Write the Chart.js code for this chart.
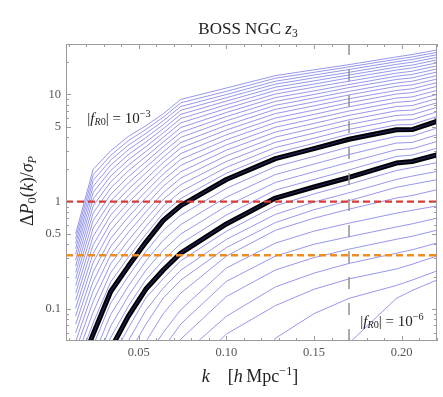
<!DOCTYPE html>
<html><head><meta charset="utf-8">
<script src="https://cdn.jsdelivr.net/npm/chart.js@4.4.0/dist/chart.umd.min.js"></script>
<style>
html,body{margin:0;padding:0;background:#fff;}
#wrap{position:relative;width:443px;height:397px;overflow:hidden;background:#fff;}
canvas{position:absolute;left:0;top:0;}
.t{position:absolute;font-family:"Liberation Serif","DejaVu Serif",serif;color:#222;white-space:nowrap;line-height:1;transform:translate(-50%,-50%);}
.t sub{font-size:0.68em;vertical-align:-0.28em;line-height:0;}
.t sup{font-size:0.68em;vertical-align:0.55em;line-height:0;}
</style></head><body>
<div id="wrap">
<canvas id="c" width="443" height="397"></canvas>
<div class="t" style="left:248px;top:28px;font-size:17px;">BOSS NGC <i>z</i><sub>3</sub></div>
<div class="t" style="left:27px;top:191px;font-size:18px;transform:translate(-50%,-50%) rotate(-90deg);">Δ<i>P</i><sub>0</sub>(<i>k</i>)/<i>σ</i><sub><i>P</i></sub></div>
<div class="t" style="left:250px;top:376px;font-size:18px;"><i>k</i>&nbsp;&nbsp;&nbsp;&nbsp;[<i>h</i>&thinsp;Mpc<sup>−1</sup>]</div>
<div class="t" style="left:119px;top:118px;font-size:15px;">|<i>f</i><sub><i>R</i>0</sub>| = 10<sup>−3</sup></div>
<div class="t" style="left:392px;top:321px;font-size:15px;">|<i>f</i><sub><i>R</i>0</sub>| = 10<sup>−6</sup></div>
</div>
<script>
// k grid (h/Mpc)
const kGrid = [0.014, 0.024, 0.034, 0.044, 0.054, 0.064, 0.074, 0.10, 0.128, 0.15, 0.17, 0.197, 0.206, 0.22];

// Delta P0 / sigma_P for |fR0| from 1e-3 (c00) down to 1e-6 (c36)
const c00 = [0.5, 2.0, 2.98, 4.05, 5.1, 6.6, 9.0, 11.5, 15, 17, 19, 22.4, 23.6, 26];
const c01 = [0.452, 1.78, 2.70, 3.70, 4.71, 6.14, 8.36, 10.7, 14.2, 16.1, 18.1, 21.3, 22.4, 24.7];
const c02 = [0.406, 1.58, 2.44, 3.36, 4.32, 5.68, 7.73, 10.0, 13.3, 15.2, 17.1, 20.2, 21.2, 23.5];
const c03 = [0.363, 1.39, 2.19, 3.04, 3.95, 5.23, 7.12, 9.33, 12.5, 14.3, 16.1, 19.1, 20.0, 22.2];
const c04 = [0.323, 1.22, 1.95, 2.74, 3.59, 4.79, 6.53, 8.67, 11.7, 13.4, 15.2, 18.0, 18.8, 21.0];
const c05 = [0.285, 1.06, 1.73, 2.45, 3.25, 4.38, 5.97, 8.02, 10.9, 12.5, 14.3, 16.9, 17.7, 19.7];
const c06 = [0.250, 0.913, 1.53, 2.18, 2.93, 3.98, 5.43, 7.39, 10.1, 11.7, 13.3, 15.8, 16.5, 18.5];
const c07 = [0.218, 0.783, 1.34, 1.93, 2.63, 3.60, 4.91, 6.79, 9.35, 10.8, 12.4, 14.8, 15.4, 17.3];
const c08 = [0.190, 0.667, 1.17, 1.70, 2.35, 3.25, 4.43, 6.22, 8.62, 10.0, 11.6, 13.8, 14.3, 16.2];
const c09 = [0.164, 0.565, 1.01, 1.49, 2.09, 2.91, 3.98, 5.67, 7.93, 9.27, 10.7, 12.8, 13.3, 15.0];
const c10 = [0.140, 0.474, 0.872, 1.30, 1.85, 2.60, 3.56, 5.15, 7.26, 8.53, 9.90, 11.9, 12.3, 13.9];
const c11 = [0.120, 0.396, 0.748, 1.13, 1.62, 2.32, 3.17, 4.66, 6.63, 7.83, 9.13, 10.9, 11.3, 12.9];
const c12 = [0.101, 0.329, 0.637, 0.976, 1.42, 2.05, 2.81, 4.20, 6.03, 7.15, 8.38, 10.1, 10.4, 11.9];
const c13 = [0.0855, 0.271, 0.540, 0.838, 1.24, 1.81, 2.48, 3.78, 5.48, 6.52, 7.68, 9.25, 9.49, 10.9];
const c14 = [0.0716, 0.221, 0.455, 0.716, 1.08, 1.59, 2.18, 3.38, 4.95, 5.93, 7.01, 8.46, 8.66, 10.0];
const c15 = [0.0596, 0.180, 0.382, 0.608, 0.930, 1.39, 1.90, 3.02, 4.46, 5.37, 6.39, 7.72, 7.88, 9.15];
const c16 = [0.0493, 0.146, 0.318, 0.514, 0.800, 1.21, 1.66, 2.68, 4.00, 4.85, 5.80, 7.03, 7.15, 8.35];
const c17 = [0.0406, 0.117, 0.263, 0.432, 0.684, 1.05, 1.44, 2.37, 3.58, 4.36, 5.25, 6.38, 6.47, 7.58];
const c18 = [0.0333, 0.093, 0.217, 0.361, 0.583, 0.908, 1.24, 2.09, 3.20, 3.91, 4.73, 5.77, 5.83, 6.87];
const c19 = [0.027, 0.0737, 0.178, 0.301, 0.494, 0.781, 1.07, 1.84, 2.84, 3.50, 4.26, 5.20, 5.24, 6.21];
const c20 = [0.022, 0.058, 0.145, 0.249, 0.417, 0.668, 0.916, 1.61, 2.52, 3.12, 3.82, 4.68, 4.70, 5.6];
const c21 = [0.018, 0.0453, 0.113, 0.201, 0.340, 0.540, 0.748, 1.33, 2.12, 2.64, 3.24, 4.06, 4.09, 4.85];
const c22 = [0.015, 0.0355, 0.0883, 0.162, 0.278, 0.436, 0.610, 1.10, 1.79, 2.24, 2.75, 3.52, 3.57, 4.20];
const c23 = [0.012, 0.0277, 0.0689, 0.131, 0.228, 0.352, 0.498, 0.908, 1.51, 1.90, 2.33, 3.05, 3.11, 3.64];
const c24 = [0.0097, 0.0217, 0.0538, 0.105, 0.186, 0.284, 0.406, 0.750, 1.28, 1.61, 1.98, 2.64, 2.72, 3.15];
const c25 = [0.008, 0.017, 0.042, 0.085, 0.152, 0.23, 0.331, 0.619, 1.08, 1.37, 1.68, 2.29, 2.37, 2.73];
const c26 = [null, null, 0.0334, 0.0655, 0.126, 0.191, 0.281, 0.528, 0.914, 1.18, 1.45, 1.95, 2.08, 2.31];
const c27 = [null, null, null, 0.05, 0.0964, 0.156, 0.229, 0.444, 0.760, 0.991, 1.21, 1.61, 1.73, 1.91];
const c28 = [null, null, null, 0.0375, 0.0711, 0.126, 0.185, 0.372, 0.637, 0.841, 1.02, 1.36, 1.45, 1.60];
const c29 = [null, null, null, null, 0.049, 0.09, 0.14, 0.31, 0.54, 0.70, 0.85, 1.08, 1.14, 1.29];
const c30 = [null, null, null, null, 0.034, 0.06, 0.098, 0.24, 0.41, 0.53, 0.63, 0.78, 0.83, 0.91];
const c31 = [null, null, null, null, null, 0.0428, 0.072, 0.18, 0.31, 0.40, 0.47, 0.58, 0.62, 0.70];
const c32 = [null, null, null, null, null, 0.0273, 0.052, 0.13, 0.23, 0.30, 0.36, 0.445, 0.475, 0.54];
const c33 = [null, null, null, null, null, null, 0.0359, 0.085, 0.16, 0.215, 0.265, 0.33, 0.355, 0.41];
const c34 = [null, null, null, null, null, null, 0.0222, 0.058, 0.107, 0.152, 0.19, 0.235, 0.26, 0.31];
const c35 = [null, null, null, null, null, null, null, 0.0106, 0.053, 0.09, 0.125, 0.165, 0.185, 0.225];
const c36 = [null, null, null, null, null, null, null, null, null, null, 0.0477, 0.125, 0.148, 0.185];

const thinCurves = [c00,c01,c02,c03,c04,c05,c06,c07,c08,c09,c10,c11,c12,c13,c14,c15,c16,c17,c18,c19,
                    c21,c22,c23,c24,c26,c27,c28,c29,c30,c31,c32,c33,c34,c35,c36];
const thickCurves = [c20, c25];

// reference lines
const redLevel = 1;
const orangeLevel = 0.316;
const kMaxLine = 0.17;

// axes
const xMin = 0.0085, xMax = 0.2202;
const yMin = 0.05, yMax = 29.6;
const xTicks = [0.05, 0.10, 0.15, 0.20];
const xMinorTicks = [0.01,0.02,0.03,0.04,0.06,0.07,0.08,0.09,0.11,0.12,0.13,0.14,0.16,0.17,0.18,0.19,0.21,0.22];
const yTicks = [0.1, 0.5, 1, 5, 10];
const yTickLabels = ['0.1', '0.5', '1', '5', '10'];
const yMinorTicks = [0.06,0.07,0.08,0.09,0.2,0.3,0.4,0.6,0.7,0.8,0.9,2,3,4,6,7,8,9,20];

function toPts(vals){
  const out = [];
  vals.forEach((v,j)=>{ if(v!==null) out.push({x:kGrid[j], y:v}); });
  return out;
}

const datasets = [];
datasets.push({data:[{x:xMin,y:redLevel},{x:xMax,y:redLevel}], borderColor:'#d83a34', borderWidth:2.4, borderDash:[7,4], pointRadius:0, order:0, clip:0});
datasets.push({data:[{x:xMin,y:orangeLevel},{x:xMax,y:orangeLevel}], borderColor:'#f28c1e', borderWidth:2.4, borderDash:[7,4], pointRadius:0, order:0, clip:0});
datasets.push({data:[{x:kMaxLine,y:yMin},{x:kMaxLine,y:yMax}], borderColor:'#8a8a8a', borderWidth:1.4, borderDash:[12,14], pointRadius:0, order:0, clip:0});
thickCurves.forEach(c=>{
  datasets.push({data:toPts(c), borderColor:'#20205a', borderWidth:1.2, pointRadius:0, order:1, clip:0, tension:0});
  datasets.push({data:toPts(c), borderColor:'#000000', borderWidth:5, pointRadius:0, order:2, clip:0, tension:0, borderCapStyle:'round', borderJoinStyle:'round'});
});
thinCurves.forEach(c=>{
  datasets.push({data:toPts(c), borderColor:'rgba(110,110,230,0.9)', borderWidth:0.8, pointRadius:0, order:3, clip:0, tension:0});
});

const framePlugin = {
  id:'frame',
  afterDraw(chart){
    const {ctx, chartArea:a, scales:{x,y}} = chart;
    ctx.save();
    ctx.strokeStyle='#9c9c9c'; ctx.lineWidth=1;
    ctx.strokeRect(a.left+0.5, a.top+0.5, a.right-a.left-1, a.bottom-a.top-1);
    const seg=(x1,y1,x2,y2)=>{ctx.beginPath();ctx.moveTo(x1,y1);ctx.lineTo(x2,y2);ctx.stroke();};
    const xt=(v,L)=>{const p=Math.round(x.getPixelForValue(v))+0.5; seg(p,a.bottom,p,a.bottom-L); seg(p,a.top,p,a.top+L);};
    const yt=(v,L)=>{const p=Math.round(y.getPixelForValue(v))+0.5; seg(a.left,p,a.left+L,p); seg(a.right,p,a.right-L,p);};
    xTicks.forEach(v=>xt(v,5)); xMinorTicks.forEach(v=>xt(v,3));
    yTicks.forEach(v=>yt(v,5)); yMinorTicks.forEach(v=>yt(v,3));
    ctx.restore();
  }
};

const tickFont = {family:'"Liberation Serif","DejaVu Serif",serif', size:12.5};
new Chart(document.getElementById('c').getContext('2d'), {
  type:'line',
  data:{datasets},
  options:{
    responsive:false, animation:false, devicePixelRatio:1,
    layout:{padding:{top:44,right:6,left:0,bottom:0}},
    plugins:{legend:{display:false}, tooltip:{enabled:false}, title:{display:false}},
    elements:{line:{fill:false}},
    scales:{
      x:{type:'linear', min:xMin, max:xMax,
        grid:{display:false, drawTicks:false}, border:{display:false},
        afterBuildTicks:s=>{s.ticks = xTicks.map(v=>({value:v}));},
        afterFit:s=>{s.height=56;},
        ticks:{padding:4, font:tickFont, color:'#555', autoSkip:false, maxRotation:0, callback:(v)=>Number(v).toFixed(2)}},
      y:{type:'logarithmic', min:yMin, max:yMax,
        grid:{display:false, drawTicks:false}, border:{display:false},
        afterBuildTicks:s=>{s.ticks = yTicks.map(v=>({value:v}));},
        afterFit:s=>{s.width=66;},
        ticks:{padding:5, font:tickFont, color:'#555', autoSkip:false, callback:(v,i)=>yTickLabels[i]}}
    }
  },
  plugins:[framePlugin]
});
</script>
</body></html>
